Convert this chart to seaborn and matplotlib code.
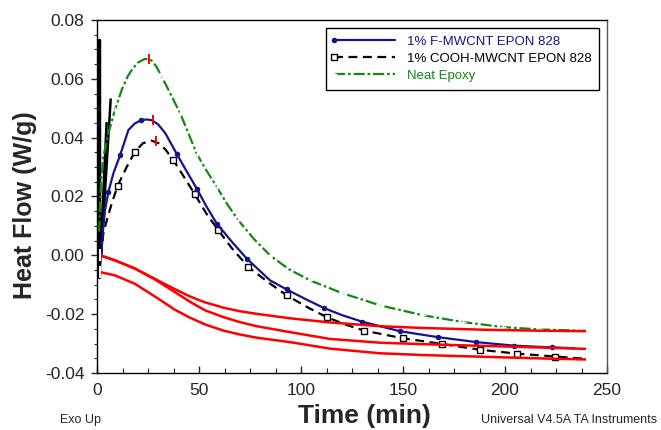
import numpy as np
import pandas as pd
import seaborn as sns
import matplotlib.pyplot as plt
from matplotlib.ticker import MultipleLocator, FormatStrFormatter

# 1% F-MWCNT EPON 828
f_time = [2.0, 3.1, 3.9, 5.6, 8.0, 11.3, 15.4, 18.5, 21.5, 24.5, 27.0, 30.0, 33.5, 39.0, 44.0, 48.9, 53.5,
          58.7, 66.0, 73.4, 84.8, 93.0, 102.0, 111.5, 120.0, 129.7, 148.5, 167.0, 186.0, 204.4, 223.0, 234.0]
f_flow = [0.0, 0.0096, 0.0153, 0.0216, 0.0278, 0.034, 0.0426, 0.0448, 0.0459, 0.0462, 0.0459, 0.0445, 0.0415,
          0.0346, 0.0285, 0.0227, 0.0168, 0.0108, 0.0047, -0.0011, -0.0085, -0.0116, -0.0148, -0.0180, -0.0203,
          -0.0225, -0.0258, -0.0278, -0.0295, -0.0307, -0.0313, -0.0316]
f_marks = [3, 5, 8, 13, 15, 17, 19, 21, 23, 25, 26, 27, 28, 29, 30]

# 1% COOH-MWCNT EPON 828
c_time = [2.0, 3.1, 4.8, 7.2, 10.1, 14.6, 18.6, 22.5, 26.8, 30.5, 33.5, 37.4, 42.5, 48.0, 53.5, 59.5, 66.0,
          74.2, 84.0, 93.0, 103.0, 112.6, 122.0, 131.0, 150.0, 169.0, 187.7, 205.7, 224.5, 240.0]
c_flow = [0.0, 0.0074, 0.0119, 0.0176, 0.0236, 0.0301, 0.0352, 0.0381, 0.0390, 0.0380, 0.0360, 0.0324,
          0.0268, 0.0207, 0.0143, 0.0085, 0.0025, -0.004, -0.0092, -0.0136, -0.0176, -0.021, -0.0236, -0.0256,
          -0.0282, -0.0301, -0.0321, -0.0334, -0.0344, -0.0352]
c_marks = [4, 6, 11, 13, 15, 17, 19, 21, 23, 24, 25, 26, 27, 28]

# Neat Epoxy
n_time = [1.0, 2.0, 3.1, 5.6, 8.8, 12.1, 15.0, 17.0, 20.0, 23.5, 26.5, 29.0, 31.7, 34.5, 37.0, 40.7, 44.5,
          48.9, 53.5, 58.7, 64.0, 69.3, 77.0, 84.8, 94.0, 104.4, 120.0, 138.7, 160.0, 179.6, 199.2, 217.0,
          236.8, 240.0]
n_flow = [0.008, 0.0256, 0.0335, 0.0415, 0.0494, 0.0562, 0.0608, 0.063, 0.0655, 0.0668, 0.0664, 0.0643,
          0.0608, 0.0570, 0.0535, 0.0484, 0.042, 0.0345, 0.029, 0.0233, 0.0172, 0.0119, 0.0055, 0.0, -0.0047,
          -0.0085, -0.0128, -0.0170, -0.0204, -0.0227, -0.0244, -0.0252, -0.0256, -0.0257]
n_marks = [4, 12, 15, 17, 19, 21, 23, 25, 26, 27, 28, 29, 30, 31, 32]

# baselines (red)
base_time = [1.5, 8.8, 18.6, 28.4, 38.2, 45.6, 53.0, 62.0, 70.0, 78.3, 94.6, 114.0, 138.7, 160.0,
             190.0, 215.0, 240.0]
base_upper = [0.0, -0.0017, -0.0045, -0.0080, -0.0115, -0.0140, -0.0160, -0.0178, -0.0190, -0.0199,
              -0.0214, -0.0228, -0.0241, -0.0247, -0.0253, -0.0256, -0.0258]
base_middle = [0.0, -0.0017, -0.0045, -0.0082, -0.0125, -0.0158, -0.0187, -0.0210, -0.0227, -0.0241,
               -0.0261, -0.0284, -0.0297, -0.0302, -0.0308, -0.0313, -0.0318]
base_lower = [-0.0057, -0.0068, -0.0097, -0.0140, -0.0185, -0.0212, -0.0235, -0.0256, -0.0269,
              -0.0280, -0.0295, -0.0317, -0.0333, -0.0339, -0.0345, -0.0350, -0.0354]

# peak markers
peak_time = [25.5, 27.3, 28.9]
peak_flow = [0.0666, 0.0460, 0.0388]

# start-up transients
spike_time = [[1.0, 1.0], [1.5, 4.7], [2.0, 6.7]]
spike_flow = [[-0.0075, 0.0733], [-0.003, 0.045], [0.0, 0.053]]

navy = '#14148c'
green = '#108a10'
red = '#ff0000'

sns.set_style('ticks')
plt.rcParams['font.family'] = ['Liberation Sans', 'DejaVu Sans']

fig = plt.figure(figsize=(6.61, 4.30), dpi=100)
ax = fig.add_axes([97 / 661, 1 - 373 / 430, 510 / 661, 353 / 430])

for sx, sy in zip(spike_time, spike_flow):
    sns.lineplot(x=sx, y=sy, ax=ax, sort=False, estimator=None, color='black', lw=2.5 if sx[0] == sx[1] else 1.8)

sns.lineplot(x=n_time, y=n_flow, ax=ax, sort=False, estimator=None, color=green, lw=1.6,
             marker='+', markersize=5, markeredgewidth=1.0, markevery=n_marks)
n_line = ax.lines[-1]
n_line.set_dashes([5, 1.3, 1.2, 1.3])

sns.lineplot(x=c_time, y=c_flow, ax=ax, sort=False, estimator=None, color='black', lw=1.6,
             marker='s', markersize=4.5, markerfacecolor='white', markeredgecolor='black',
             markeredgewidth=1.0, markevery=c_marks)
c_line = ax.lines[-1]
c_line.set_dashes([4, 2.5])

sns.lineplot(x=f_time, y=f_flow, ax=ax, sort=False, estimator=None, color=navy, lw=1.6,
             marker='o', markersize=4, markeredgewidth=0, markevery=f_marks)
f_line = ax.lines[-1]

for by in [base_upper, base_middle, base_lower]:
    sns.lineplot(x=base_time, y=by, ax=ax, sort=False, estimator=None, color=red, lw=1.8,
                 marker='|', markersize=9, markeredgewidth=1.4, markevery=[0, len(base_time) - 1])

sns.scatterplot(x=peak_time, y=peak_flow, ax=ax, marker='|', s=55, color=red, linewidth=1.4, zorder=5)

ax.set_xlim(0, 250)
ax.set_ylim(-0.04, 0.08)
ax.xaxis.set_major_locator(MultipleLocator(50))
ax.xaxis.set_minor_locator(MultipleLocator(12.5))
ax.yaxis.set_major_locator(MultipleLocator(0.02))
ax.yaxis.set_minor_locator(MultipleLocator(0.005))
ax.yaxis.set_major_formatter(FormatStrFormatter('%.2f'))
ax.tick_params(axis='x', which='major', direction='in', length=5, width=1, labelsize=12.5, pad=7)
ax.tick_params(axis='x', which='minor', direction='in', length=3.5, width=0.8)
ax.tick_params(axis='y', which='major', direction='out', length=4, width=1, labelsize=12.5, pad=5)
ax.tick_params(axis='y', which='minor', direction='out', length=2.5, width=0.8)

for side in ['left', 'bottom', 'top']:
    ax.spines[side].set_color('black')
    ax.spines[side].set_linewidth(1.0)
ax.spines['right'].set_color('#555555')
ax.spines['right'].set_linewidth(1.0)

ax.set_xlabel('Time (min)', fontsize=19, fontweight='bold')
ax.set_ylabel('Heat Flow (W/g)', fontsize=18, fontweight='bold')
ax.xaxis.set_label_coords(0.525, -0.088)
ax.yaxis.set_label_coords(-0.118, 0.475)

labels = ['1% F-MWCNT EPON 828', '1% COOH-MWCNT EPON 828', 'Neat Epoxy']
leg = ax.legend([f_line, c_line, n_line], labels, loc='upper right', fontsize=9.5, frameon=True,
                fancybox=False, framealpha=1, edgecolor='black', handlelength=4.6, handletextpad=0.9,
                labelspacing=0.35, borderpad=0.6, borderaxespad=0.6)
leg.get_frame().set_linewidth(1.0)
for ln in leg.get_lines():
    ln.set_markevery([0])
for txt, col in zip(leg.get_texts(), [navy, 'black', green]):
    txt.set_color(col)

fig.text(60 / 661, 1 - 420 / 430, 'Exo Up', fontsize=9, ha='left', va='center')
fig.text(657 / 661, 1 - 420 / 430, 'Universal V4.5A TA Instruments', fontsize=9, ha='right', va='center')

fig.savefig('out.png', dpi=100)
